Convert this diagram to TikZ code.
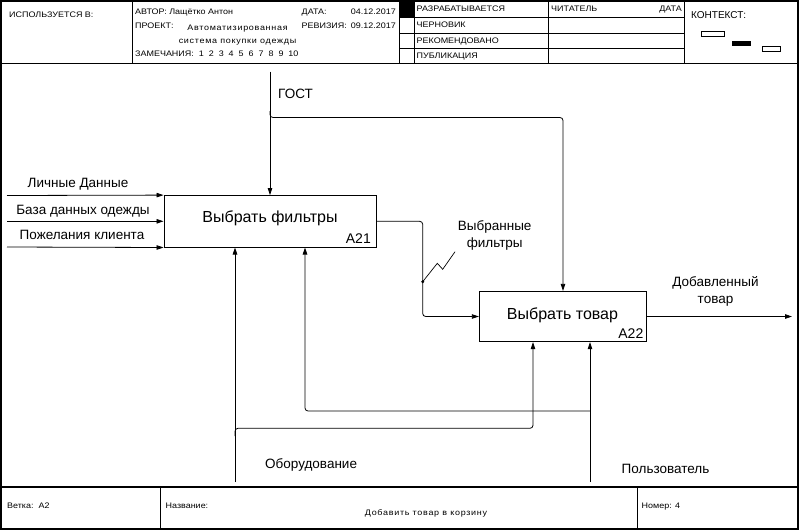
\documentclass[tikz,border=0pt]{standalone}
\usepackage{fontspec}
\setmainfont{Liberation Sans}
\newfontfamily\hdrfont{Liberation Sans}[FakeStretch=1.12]
\newfontfamily\hdrwide{Liberation Sans}[FakeStretch=1.12,LetterSpace=9]
\usetikzlibrary{arrows.meta}
\begin{document}
\begin{tikzpicture}[x=1pt,y=-1pt,
  frame/.style={line width=1.4pt},
  grid/.style={line width=0.8pt},
  flow/.style={line width=0.8pt, rounded corners=3pt},
  arr/.style={flow, -{Triangle[length=7pt,width=4.5pt]}},
  hdr/.style={font=\hdrfont\fontsize{8}{9.6}\selectfont, inner sep=0pt, anchor=base west},
  hdrsp/.style={font=\hdrwide\fontsize{8}{9.6}\selectfont, inner sep=0pt, anchor=base},
  ctx/.style={font=\fontsize{10}{12}\selectfont, inner sep=0pt, anchor=base west},
  func/.style={draw, line width=0.9pt, inner sep=0pt},
  ftext/.style={font=\fontsize{16}{19}\selectfont, inner sep=0pt, anchor=base},
  fnum/.style={font=\fontsize{14}{16}\selectfont, inner sep=0pt, anchor=base east},
  lbl/.style={font=\fontsize{13.5}{17}\selectfont, inner sep=0pt, align=center},
]
\useasboundingbox (0,0) rectangle (799,530);

% ---------- outer frame ----------
\draw[frame] (1,1) rectangle (798,529);
\draw[frame] (1,63.5) -- (798,63.5);
\draw[frame] (1,487) -- (798,487);

% ---------- header grid ----------
\draw[grid] (132,1) -- (132,63.5);
\draw[grid] (399,1) -- (399,63.5);
\draw[grid] (414,1) -- (414,63.5);
\draw[grid] (548,1) -- (548,63.5);
\draw[grid] (684,1) -- (684,63.5);
\foreach \yy in {17.3,33.3,48.3} \draw[grid] (399,\yy) -- (684,\yy);
\fill (399,1) rectangle (414,17.3);

% context thumbnails
\draw[line width=0.7pt] (701,31.7) rectangle (724,36.5);
\fill (732,41) rectangle (751,45.5);
\draw[line width=0.7pt] (762,46) rectangle (780.5,51);

% header texts
\node[hdr] (used) at (9,17) {ИСПОЛЬЗУЕТСЯ В:};
\node[hdr] (author) at (135,14) {АВТОР: Лащётко Антон};
\node[hdr] (datek) at (301.5,14) {ДАТА:};
\node[hdr,anchor=base east] (datev) at (396,14) {04.12.2017};
\node[hdr] (proj) at (135,28) {ПРОЕКТ:};
\node[hdrsp] (proj1) at (237.5,30.7) {Автоматизированная};
\node[hdrsp] (proj2) at (237.5,43) {система покупки одежды};
\node[hdr] (rev) at (301.5,28) {РЕВИЗИЯ:};
\node[hdr,anchor=base east] (revv) at (396,28) {09.12.2017};
\node[hdr] (notes) at (135,56.7) {ЗАМЕЧАНИЯ:\ \ 1\ \ 2\ \ 3\ \ 4\ \ 5\ \ 6\ \ 7\ \ 8\ \ 9\ \ 10};
\node[hdr] (st1) at (416.5,11) {РАЗРАБАТЫВАЕТСЯ};
\node[hdr] (st2) at (416.5,27) {ЧЕРНОВИК};
\node[hdr] (st3) at (416.5,43) {РЕКОМЕНДОВАНО};
\node[hdr] (st4) at (416.5,58) {ПУБЛИКАЦИЯ};
\node[hdr] (reader) at (551,11) {ЧИТАТЕЛЬ};
\node[hdr,anchor=base east] (rdate) at (682,11) {ДАТА};
\node[ctx] (context) at (691,18) {КОНТЕКСТ:};

% ---------- footer ----------
\draw[grid] (160,487) -- (160,529);
\draw[grid] (637,487) -- (637,529);
\node[hdr] (node) at (7,508) {Ветка:\ \ A2};
\node[hdr] (title) at (165.5,508) {Название:};
\node[hdrsp] (titlev) at (426,515) {Добавить товар в корзину};
\node[hdr] (num) at (641.5,508) {Номер: 4};

% ---------- activity boxes ----------
\node[func, minimum width=212pt, minimum height=51.5pt] (A21) at (270,221.3) {};
\node[func, minimum width=167.4pt, minimum height=50.4pt] (A22) at (563,316.5) {};
\node[ftext] (A21t) at (270,222) {Выбрать фильтры};
\node[fnum] (A21n) at (371,243) {A21};
\node[ftext] (A22t) at (562.5,319) {Выбрать товар};
\node[fnum] (A22n) at (643.5,338) {A22};

% ---------- inputs ----------
\coordinate (in1) at (7,195.5);
\coordinate (in2) at (7,221.3);
\coordinate (in3) at (7,247);
\draw[arr] (in1) -- (A21.north west);
\draw[arr] (in2) -- (A21.west);
\draw[arr] (in3) -- (A21.south west);
\node[lbl,anchor=base] (lin1) at (78,187.5) {Личные Данные};
\node[lbl,anchor=base] (lin2) at (83,214) {База данных одежды};
\node[lbl,anchor=base] (lin3) at (82,239) {Пожелания клиента};

% ---------- control ----------
\coordinate (gost) at (270,71.5);
\coordinate (gj0) at (270,111);
\coordinate (gj) at (270,117.5);
\draw[arr] (gost) -- (A21.north);
\draw[arr] (gj0) -- (gj) -- (gj -| A22.north) -- (A22.north);
\node[lbl,anchor=base west] (lgost) at (278,98) {ГОСТ};

% ---------- A21 output to A22 input ----------
\coordinate (bend) at (422.7,280);
\draw[arr] (A21.east) -- (A21.east -| bend) -- (bend |- A22.west) -- (A22.west);
\coordinate (sq0) at (422.7,281.7);
\draw[line width=0.7pt] (sq0) -- (437.3,263.3) -- (442.7,269.3) -- (455,251.7);
\fill (sq0) circle (1.6pt);
\node[lbl] (lsel) at (494.7,235) {Выбранные\\фильтры};

% ---------- A22 output ----------
\coordinate (out) at (792,316.5);
\draw[arr] (A22.east) -- (out);
\node[lbl] (lout) at (715.5,291) {Добавленный\\товар};

% ---------- mechanisms ----------
\coordinate (m1) at (235,482);
\coordinate (m1j0) at (235,436);
\coordinate (m1j) at (235,428.3);
\coordinate (m1k) at (533,428.3);
\draw[arr] (m1) -- (m1 |- A21.south);
\draw[arr] (m1j0) -- (m1j) -- (m1k) -- (m1k |- A22.south);
\node[lbl,anchor=base west] (lm1) at (265,468) {Оборудование};

\coordinate (m2) at (590,482);
\coordinate (m2j) at (590,411);
\coordinate (m2k) at (305,411);
\draw[arr] (m2) -- (m2 |- A22.south);
\draw[arr] (m2j) -- (m2k) -- (m2k |- A21.south);
\node[lbl,anchor=base west] (lm2) at (621.5,473) {Пользователь};
\end{tikzpicture}
\end{document}
